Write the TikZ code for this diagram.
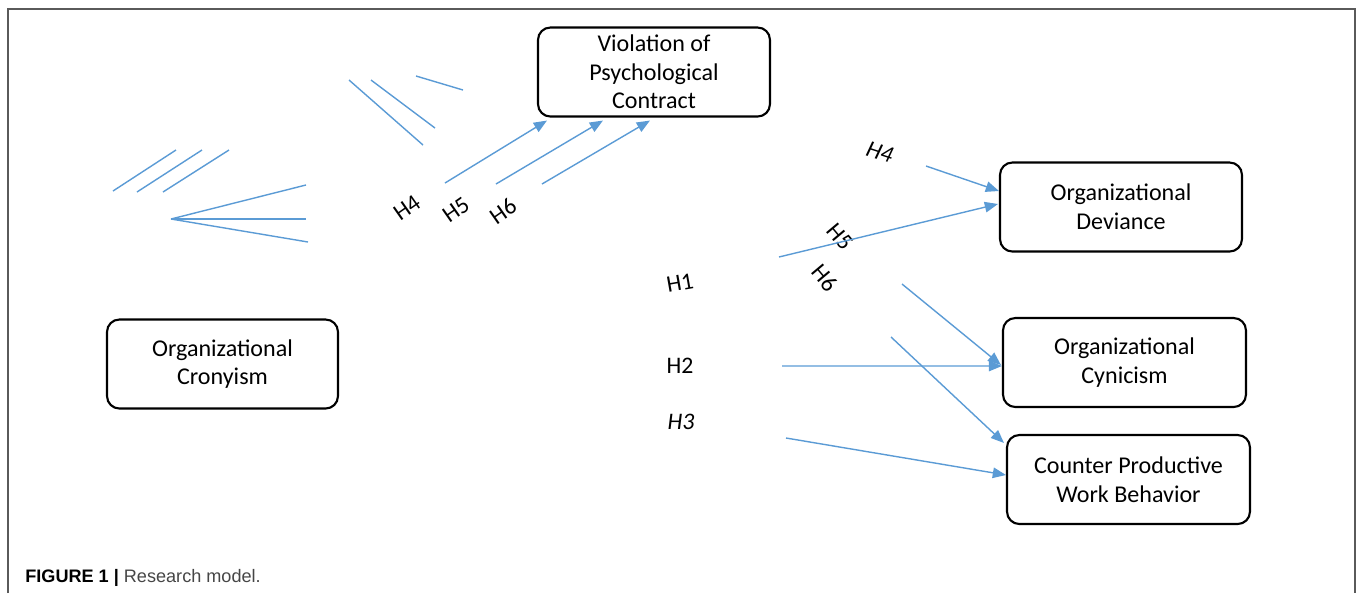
\documentclass[tikz,border=0pt]{standalone}
\usepackage{fontspec}
\setmainfont{Carlito}
\newfontfamily\capfont{Liberation Sans}
\usepackage{tikz}
\usetikzlibrary{arrows.meta,calc,positioning}
\definecolor{azulClaro}{RGB}{91, 155, 213}
\definecolor{grisMarco}{RGB}{90, 90, 90}
\definecolor{grisTexto}{RGB}{70, 70, 70}
\tikzstyle{box}   =[draw, rounded corners=7pt, line width=1.2pt,
                    align=center, minimum width=4.86cm,
                    minimum height=1.78cm, inner sep=2pt,
                    font=\fontsize{13.7}{16.3}\selectfont]
\tikzstyle{aedge} =[-{Triangle[length=7.5pt,width=6pt]},
                    line width=0.8pt, azulClaro]
\tikzstyle{stray} =[line width=0.8pt, azulClaro]
\tikzstyle{hlabel}=[inner sep=0pt, font=\fontsize{13.5}{15}\selectfont]
\begin{document}
\begin{tikzpicture}[x=0.02cm,y=-0.02cm]
        \useasboundingbox (0,0) rectangle (1357,593);
        \draw [grisMarco, line width=1pt] (8,593) -- (8,9) -- (1355,9) -- (1355,593);

        % boxes
        \node (viol)[box, minimum width=4.64cm] at (654,72)
            {Violation of\\Psychological\\Contract};
        \node (dev)[box, minimum width=4.84cm] at (1121,207)
            {Organizational\\Deviance};
        \node (cyn)[box] at (1124.5,362.5) {Organizational\\Cynicism};
        \node (cwb)[box] at (1128.5,479.5)
            {Counter Productive\\Work Behavior};
        \node (cron)[box, minimum width=4.62cm] at (222.5,364)
            {Organizational\\Cronyism};

        % hypothesis labels
        \node (h4a)[hlabel, rotate=35] at (407,208) {H4};
        \node (h5a)[hlabel, rotate=35] at (456,210) {H5};
        \node (h6a)[hlabel, rotate=35] at (503,211) {H6};
        \node (h4b)[hlabel, rotate=-18] at (880,152) {\itshape H4};
        \node (h5b)[hlabel, rotate=-50] at (840,237) {H5};
        \node (h6b)[hlabel, rotate=-50] at (825,278) {H6};
        \node (h1)[hlabel, rotate=10] at (680,283) {H1};
        \node (h2)[hlabel] at (680,366) {H2};
        \node (h3)[hlabel] at (681,422) {\itshape H3};

        % loose strokes
        \foreach \n/\xa/\ya/\xb/\yb in {1/113/191/176/150, 2/137/192/202/150,
            3/163/192/229/150, 4/349/80/423/145, 5/371/80/435/128,
            6/416/76/463/90}
        {
            \coordinate (s\n a) at (\xa,\ya);
            \coordinate (s\n b) at (\xb,\yb);
            \draw [stray] (s\n a) -- (s\n b);
        }
        \coordinate (fan) at (171,219);
        \foreach \n/\xb/\yb in {1/306/185, 2/306/219, 3/308/242}
        {
            \coordinate (f\n) at (\xb,\yb);
            \draw [stray] (fan) -- (f\n);
        }

        % arrows
        \coordinate (a1) at (445,183);
        \coordinate (a2) at (496,184);
        \coordinate (a3) at (542,184);
        \coordinate (a4) at (926,166);
        \coordinate (a5) at (779,257);
        \coordinate (a6) at (902,284);
        \coordinate (a7) at (782,366);
        \coordinate (a8) at (891,337);
        \coordinate (a9) at (786,438);

        \draw [aedge] (a1) -- ($(viol.south west)+(10,3)$);
        \draw [aedge] (a2) -- ($(viol.south west)+(66,3)$);
        \draw [aedge] (a3) -- ($(viol.south west)+(113,3)$);
        \draw [aedge] (a4) -- ($(dev.west)+(0,-16)$);
        \draw [aedge] (a5) -- ($(dev.west)+(-1,-3)$);
        \draw [aedge] (a6) -- ($(cyn.west)+(-1,2.5)$);
        \draw [aedge] (a7) -- ($(cyn.west)+(0,3.5)$);
        \draw [aedge] (a8) -- ($(cwb.north west)+(-2,9)$);
        \draw [aedge] (a9) -- ($(cwb.west)+(0,-4.5)$);

        \node (caption)[anchor=base west, inner sep=0pt,
            font=\capfont\fontsize{10.3}{12}\selectfont] at (25,582)
            {\textbf{FIGURE 1 |} \textcolor{grisTexto}{Research model.}};
\end{tikzpicture}
\end{document}
